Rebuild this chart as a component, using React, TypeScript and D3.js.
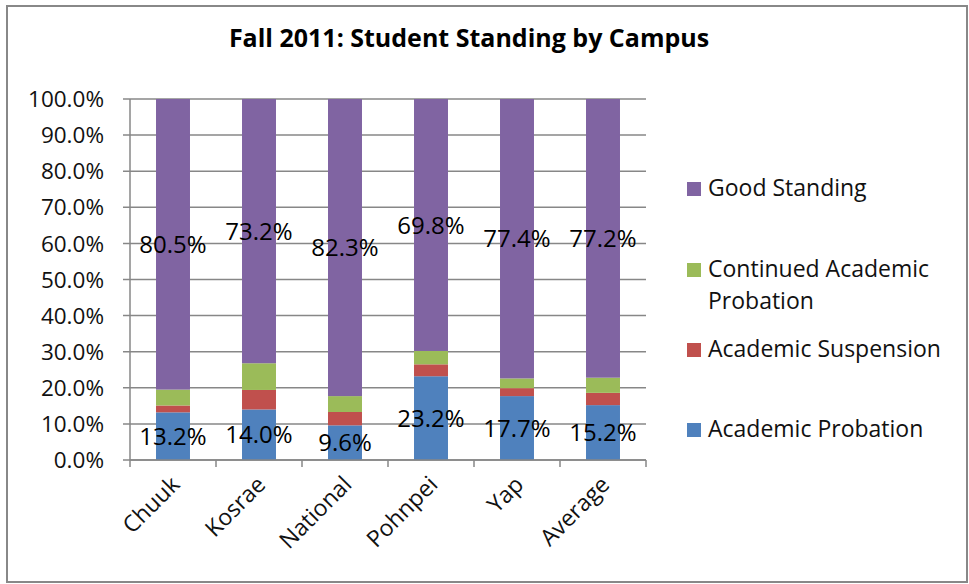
import React, { useEffect, useRef } from 'react';
import * as d3 from 'd3';

const campuses = ['Chuuk', 'Kosrae', 'National', 'Pohnpei', 'Yap', 'Average'];
const academicProbation = [13.2, 14.0, 9.6, 23.2, 17.7, 15.2];
const academicSuspension = [1.9, 5.4, 3.7, 3.3, 2.2, 3.4];
const continuedProbation = [4.4, 7.4, 4.4, 3.7, 2.7, 4.2];
const goodStanding = [80.5, 73.2, 82.3, 69.8, 77.4, 77.2];
const yTicks = [0, 10, 20, 30, 40, 50, 60, 70, 80, 90, 100];

const seriesNames = ['Academic Probation', 'Academic Suspension', 'Continued Academic Probation', 'Good Standing'];
const seriesColors = ['#4F81BD', '#C0504D', '#9BBB59', '#8064A2'];
const labelledSeries = ['Academic Probation', 'Good Standing'];

interface Row {
  campus: string;
  [key: string]: number | string;
}

const rows: Row[] = campuses.map((c, i) => ({
  campus: c,
  'Academic Probation': academicProbation[i],
  'Academic Suspension': academicSuspension[i],
  'Continued Academic Probation': continuedProbation[i],
  'Good Standing': goodStanding[i],
}));

const App: React.FC = () => {
  const svgRef = useRef<SVGSVGElement | null>(null);

  useEffect(() => {
    const width = 969;
    const height = 584;
    const plot = { left: 130, right: 646, top: 99, bottom: 460 };
    const font = '"Open Sans", sans-serif';

    const svg = d3.select(svgRef.current);
    svg.selectAll('*').remove();
    svg.attr('width', width).attr('height', height).style('font-family', font);

    // chart border
    svg
      .append('rect')
      .attr('x', 7)
      .attr('y', 6)
      .attr('width', 960)
      .attr('height', 576)
      .attr('fill', 'white')
      .attr('stroke', '#888')
      .attr('stroke-width', 2);

    svg
      .append('text')
      .attr('x', 469)
      .attr('y', 47)
      .attr('text-anchor', 'middle')
      .attr('font-weight', 'bold')
      .attr('font-size', 25)
      .text('Fall 2011: Student Standing by Campus');

    const pad = 0.605;
    const x = d3
      .scaleBand<string>()
      .domain(campuses)
      .range([plot.left, plot.right])
      .paddingInner(pad)
      .paddingOuter(pad / 2);
    const y = d3.scaleLinear().domain([0, 100]).range([plot.bottom, plot.top]);

    // gridlines
    svg
      .append('g')
      .selectAll('line')
      .data(yTicks)
      .join('line')
      .attr('x1', plot.left - 7)
      .attr('x2', plot.right)
      .attr('y1', (d) => y(d))
      .attr('y2', (d) => y(d))
      .attr('stroke', '#878787')
      .attr('stroke-width', 1.5);

    svg
      .append('g')
      .selectAll('text')
      .data(yTicks)
      .join('text')
      .attr('x', 104)
      .attr('y', (d) => y(d))
      .attr('dy', '0.36em')
      .attr('text-anchor', 'end')
      .attr('font-size', 22.5)
      .attr('fill', '#111')
      .text((d) => d.toFixed(1) + '%');

    // stacked bars
    const stack = d3.stack<Row>().keys(seriesNames).value((d, k) => d[k] as number);
    const layers = stack(rows);

    layers.forEach((layer, li) => {
      svg
        .append('g')
        .attr('fill', seriesColors[li])
        .selectAll('rect')
        .data(layer)
        .join('rect')
        .attr('x', (d) => x(d.data.campus) as number)
        .attr('width', x.bandwidth())
        .attr('y', (d) => y(d[1]))
        .attr('height', (d) => y(d[0]) - y(d[1]));
    });

    // axes
    const step = x.step();
    const boundaries = campuses.map((c) => (x(c) as number) - (step - x.bandwidth()) / 2);
    boundaries.push(plot.right);

    svg
      .append('line')
      .attr('x1', plot.left)
      .attr('x2', plot.left)
      .attr('y1', plot.top)
      .attr('y2', plot.bottom)
      .attr('stroke', '#878787')
      .attr('stroke-width', 1.5);
    svg
      .append('line')
      .attr('x1', plot.left)
      .attr('x2', plot.right)
      .attr('y1', plot.bottom)
      .attr('y2', plot.bottom)
      .attr('stroke', '#878787')
      .attr('stroke-width', 1.5);
    svg
      .append('g')
      .selectAll('line')
      .data(boundaries)
      .join('line')
      .attr('x1', (d) => d)
      .attr('x2', (d) => d)
      .attr('y1', plot.bottom)
      .attr('y2', plot.bottom + 7)
      .attr('stroke', '#878787')
      .attr('stroke-width', 1.5);

    svg
      .append('g')
      .selectAll('text')
      .data(campuses)
      .join('text')
      .attr('transform', (d) => `translate(${(x(d) as number) + x.bandwidth() / 2 + 8},486) rotate(-45)`)
      .attr('text-anchor', 'end')
      .attr('font-size', 23)
      .attr('fill', '#111')
      .text((d) => d);

    // data labels
    layers.forEach((layer, li) => {
      if (!labelledSeries.includes(seriesNames[li])) return;
      svg
        .append('g')
        .selectAll('text')
        .data(layer)
        .join('text')
        .attr('x', (d) => (x(d.data.campus) as number) + x.bandwidth() / 2)
        .attr('y', (d) => y((d[0] + d[1]) / 2))
        .attr('dy', '0.36em')
        .attr('text-anchor', 'middle')
        .attr('font-size', 24)
        .attr('fill', '#000')
        .text((d) => (d[1] - d[0]).toFixed(1) + '%');
    });

    // legend, top to bottom in reverse series order
    const legendBaselines = [196, 277, 357, 437];
    const legendItems = seriesNames.map((n, i) => ({ name: n, color: seriesColors[i] })).reverse();
    const legend = svg.append('g');
    legendItems.forEach((item, i) => {
      const base = legendBaselines[i];
      legend
        .append('rect')
        .attr('x', 687)
        .attr('y', base - 14)
        .attr('width', 14)
        .attr('height', 14)
        .attr('fill', item.color);
      const words = item.name === 'Continued Academic Probation' ? ['Continued Academic', 'Probation'] : [item.name];
      words.forEach((w, wi) => {
        legend
          .append('text')
          .attr('x', 708)
          .attr('y', base + wi * 32)
          .attr('font-size', 23)
          .attr('fill', '#111')
          .text(w);
      });
    });
  }, []);

  return <svg ref={svgRef} style={{ position: 'absolute', left: 0, top: 0 }} />;
};

export default App;
